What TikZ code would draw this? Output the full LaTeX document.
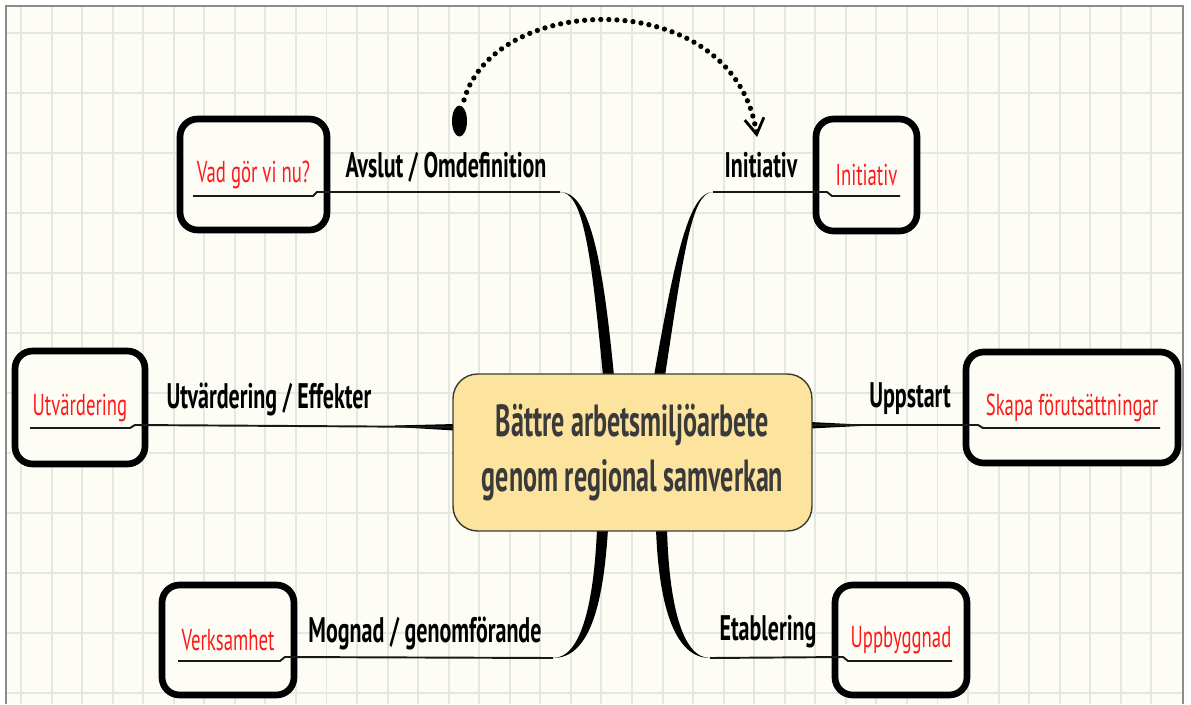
\documentclass[tikz,border=0pt]{standalone}
\usepackage{fontspec}
\setmainfont{PT Sans}
\newfontfamily\smalfont[FakeStretch=0.62]{PT Sans}
\newfontfamily\mittfont[FakeStretch=0.58]{PT Sans}
\usepackage{xcolor}
\usepackage{tikz}
\usetikzlibrary{calc, positioning, arrows.meta}

\definecolor{papper}{HTML}{FDFDF5}
\definecolor{rutnat}{HTML}{E2E9E0}
\definecolor{ram}{HTML}{8C8C8C}
\definecolor{gul}{HTML}{FCE49F}
\definecolor{morkgra}{HTML}{3A3A3A}
\definecolor{rod}{HTML}{FF1A1A}

\tikzset{
  ruta/.style={draw=black, line width=3.8pt, rounded corners=10pt, fill=papper,
    text=rod, font=\smalfont\fontsize{17.2}{20}\selectfont, inner sep=0pt},
  etikett/.style={anchor=base, text=black, font=\smalfont\bfseries\fontsize{20.2}{24}\selectfont},
  gren/.style={draw=black!90, line width=1.1pt},
  prickad/.style={line width=3pt, line cap=round, dash pattern=on 0pt off 4.6pt}
}

\begin{document}
\begin{tikzpicture}[x=0.02cm, y=-0.02cm, >=stealth]

    % =================================================================
    % 1. PAPPER OCH RUTNAT
    % =================================================================
    \useasboundingbox (0,0) rectangle (1191,704);
    \fill[white] (0,0) rectangle (1191,704);
    \fill[papper] (6,6) rectangle (1183,704);
    \foreach \k in {0,...,37}
        \draw[rutnat, line width=1.1pt] ({21+30.55*\k},6) -- ({21+30.55*\k},704);
    \foreach \k in {0,...,11}
        \draw[rutnat, line width=1.1pt] (6,{33+60*\k}) -- (1183,{33+60*\k});
    \draw[ram, line width=1pt] (6,704) -- (6,6) -- (1183,6) -- (1183,704);

    % =================================================================
    % 2. KOORDINATER FOR GRENARNA
    % =================================================================
    \coordinate (TV) at (560,192);   % ovre vanster
    \coordinate (TH) at (713,192);   % ovre hoger
    \coordinate (NV) at (553,658);   % nedre vanster
    \coordinate (NH) at (710,658);   % nedre hoger
    \coordinate (MV) at (453,427);   % mitten vanster
    \coordinate (MH) at (812,425);   % mitten hoger

    % =================================================================
    % 3. AVSMALNANDE GRENAR (ritas fore noderna)
    % =================================================================
    \fill (TV) .. controls (583,192) and (591,250) .. (603,376)
          -- (614,376) .. controls (602,250) and (588,192) .. (TV) -- cycle;
    \fill (TH) .. controls (690,192) and (676,250) .. (654,376)
          -- (665,376) .. controls (684,250) and (692,192) .. (TH) -- cycle;
    \fill (NV) .. controls (582,658) and (594,600) .. (597,529)
          -- (608,529) .. controls (603,610) and (588,658) .. (NV) -- cycle;
    \fill (NH) .. controls (681,658) and (669,600) .. (667,529)
          -- (656,529) .. controls (659,610) and (676,658) .. (NH) -- cycle;
    \fill (395,425.5) -- (455,424) -- (455,430.5) -- (395,427) -- cycle;
    \fill (810,422) -- (860,424.5) -- (860,426) -- (810,428.5) -- cycle;

    % =================================================================
    % 4. NODER
    % =================================================================
    \node[draw=morkgra, line width=0.8pt, fill=gul, rounded corners=14pt,
          minimum width=7.18cm, minimum height=3.14cm, align=center,
          text=morkgra, font=\mittfont\bfseries\fontsize{25.6}{31.2}\selectfont]
          (mitt) at (632.5,452.5) {Bättre arbetsmiljöarbete\\genom regional samverkan};

    \node[ruta, minimum width=2.94cm, minimum height=2.22cm] (vad) at (253.5,174.5) {Vad gör vi nu?};
    \node[ruta, minimum width=2.02cm, minimum height=2.24cm] (init) at (866.5,175) {Initiativ};
    \node[ruta, minimum width=2.60cm, minimum height=2.26cm] (utv) at (80,407.5) {Utvärdering};
    \node[ruta, minimum width=4.24cm, minimum height=2.22cm] (skapa) at (1072,407.5) {Skapa förutsättningar};
    \node[ruta, minimum width=2.64cm, minimum height=2.20cm] (verk) at (228,640) {Verksamhet};
    \node[ruta, minimum width=2.64cm, minimum height=2.20cm] (uppb) at (901,640) {Uppbyggnad};

    % =================================================================
    % 5. TUNNA LINJER MED UNDERSTRYKNING
    % =================================================================
    \draw[gren] (193,196) -- (313,196) -- (317,192) -- (TV);
    \draw[gren] (TH) -- (827,192) -- (832,196) -- (900,196);
    \draw[gren] (30,428) -- (130,428) -- (135,425) -- (MV);
    \draw[gren] (MH) -- (978,425) -- (983,428) -- (1160,428);
    \draw[gren] (178,661) -- (280,661) -- (285,657) -- (NV);
    \draw[gren] (NH) -- (843,657) -- (848,661) -- (952,661);

    % =================================================================
    % 6. ETIKETTER
    % =================================================================
    \node[etikett] (l1) at (446,177) {Avslut / Omdefinition};
    \node[etikett] (l2) at (761,177) {Initiativ};
    \node[etikett] (l3) at (269,408) {Utvärdering / Effekter};
    \node[etikett] (l4) at (910,407) {Uppstart};
    \node[etikett] (l5) at (425,642) {Mognad / genomförande};
    \node[etikett] (l6) at (768,640) {Etablering};

    % =================================================================
    % 7. PRICKAD PIL
    % =================================================================
    \fill (459.5,121) ellipse (7.5 and 15.5);
    \coordinate (pilstart) at (464,100);
    \coordinate (pilslut) at (757,137);
    \draw[prickad, -{Straight Barb[length=9pt, width=11pt, line width=1.6pt]}]
        (pilstart) .. controls (495,-10) and (735,-15) .. (pilslut);

\end{tikzpicture}
\end{document}
